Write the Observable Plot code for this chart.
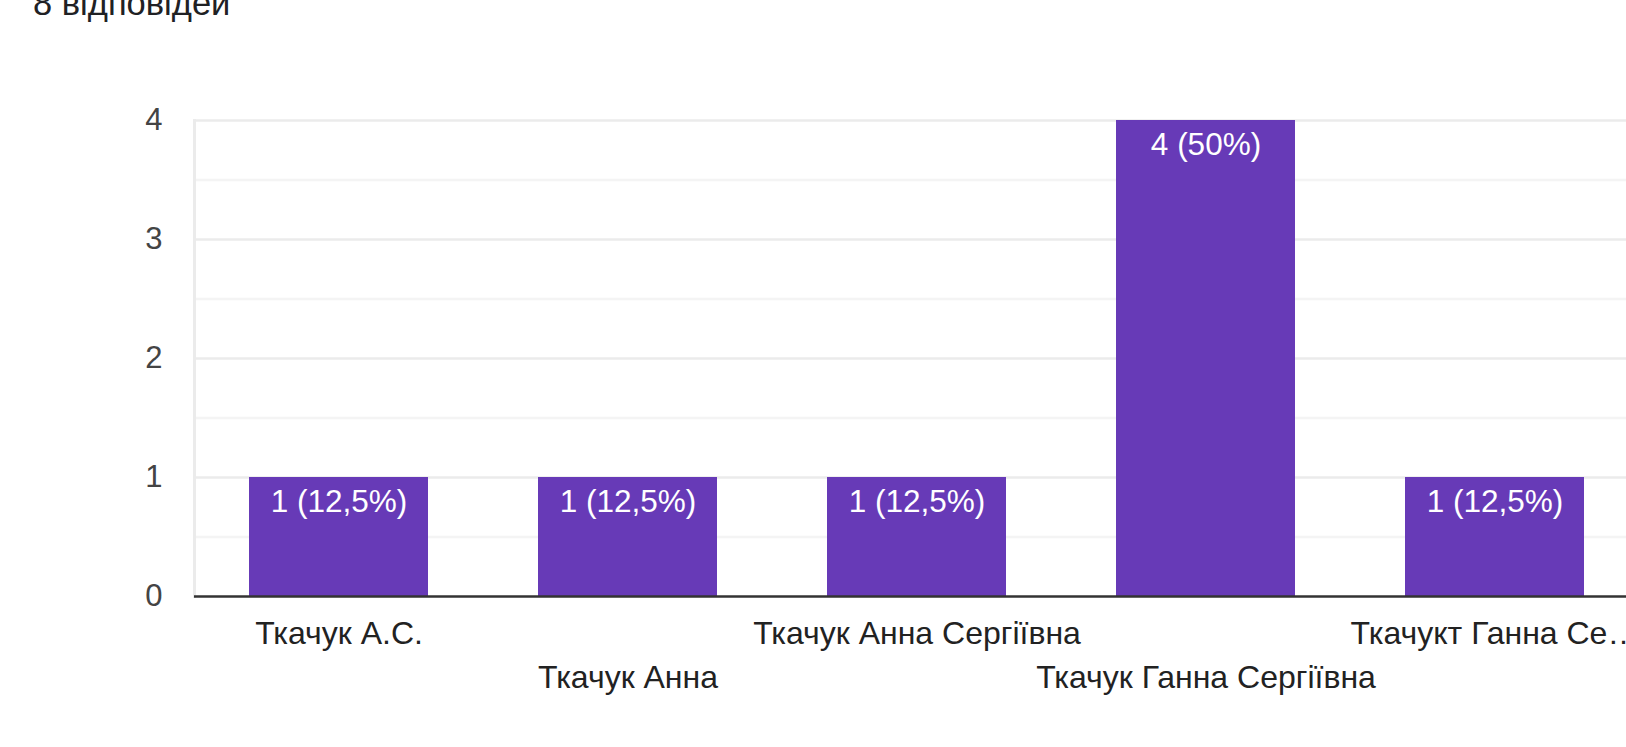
<!DOCTYPE html>
<html>
<head>
<meta charset="utf-8">
<script src="https://cdn.jsdelivr.net/npm/d3@7"></script>
<script src="https://cdn.jsdelivr.net/npm/@observablehq/plot@0.6"></script>
<style>
  html, body { margin: 0; padding: 0; background: #fff; overflow: hidden; }
  #wrap { position: relative; width: 1626px; height: 747px; overflow: hidden; }
  #title { position: absolute; left: 33px; top: -14px; font: 34.5px "Liberation Sans", Arial, sans-serif; line-height: 34.5px; color: #202124; white-space: nowrap; }
  #chart { position: absolute; left: 0; top: 0; }
</style>
</head>
<body>
<div id="wrap">
  <div id="title">8 відповідей</div>
  <div id="chart"></div>
</div>
<script>
const categories = ["Ткачук А.С.", "Ткачук Анна", "Ткачук Анна Сергіївна", "Ткачук Ганна Сергіївна", "Ткачукт Ганна Се…"];
const counts = [1, 1, 1, 4, 1];
const total = 8;
const majorTicks = [0, 1, 2, 3, 4];
const minorTicks = [0.5, 1.5, 2.5, 3.5];

const data = categories.map((c, i) => ({
  name: c,
  count: counts[i],
  label: `${counts[i]} (${String(+(counts[i] / total * 100).toFixed(1)).replace(".", ",")}%)`
}));

const font = "Liberation Sans, Arial, sans-serif";

const chart = Plot.plot({
  width: 1626,
  height: 747,
  marginLeft: 194,
  marginRight: 0,
  marginTop: 120,
  marginBottom: 151,
  style: { fontFamily: font, background: "transparent", overflow: "visible" },
  x: { domain: categories, range: [194, 1639], paddingInner: 0.38, paddingOuter: 0.19, axis: null, label: null },
  y: { domain: [0, 4], axis: null, label: null },
  marks: [
    Plot.ruleY(minorTicks, { stroke: "#f4f4f4", strokeWidth: 2.5 }),
    Plot.ruleY(majorTicks.filter(d => d > 0), { stroke: "#ebebeb", strokeWidth: 2.5 }),
    Plot.frame({ anchor: "left", stroke: "#ebebeb", strokeWidth: 3 }),
    Plot.barY(data, { x: "name", y: "count", fill: "#673ab7" }),
    Plot.ruleY([0], { stroke: "#333333", strokeWidth: 2.5 }),
    Plot.text(data, { x: "name", y: "count", text: "label", fill: "#ffffff", fontSize: 31.5, lineAnchor: "top", dy: 12 }),
    Plot.axisY(majorTicks, { tickSize: 0, tickPadding: 32, fontSize: 31, color: "#444444", tickFormat: d => String(d), label: null }),
    Plot.axisX(categories.filter((d, i) => i % 2 === 0), { tickSize: 0, tickPadding: 25, fontSize: 32, color: "#222222", tickFormat: d => d, label: null }),
    Plot.axisX(categories.filter((d, i) => i % 2 === 1), { tickSize: 0, tickPadding: 69, fontSize: 32, color: "#222222", tickFormat: d => d, label: null })
  ]
});
document.getElementById("chart").appendChild(chart);
</script>
</body>
</html>
